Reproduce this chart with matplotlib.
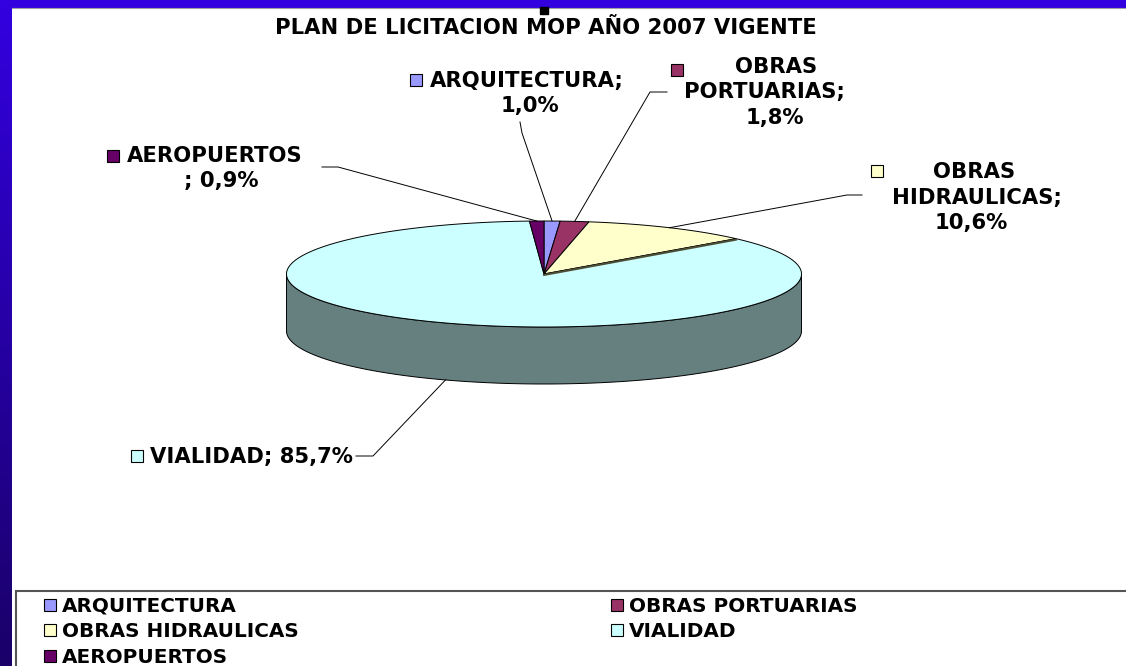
import numpy as np
import matplotlib
matplotlib.use("Agg")
import matplotlib.pyplot as plt
from matplotlib.colors import to_rgb
from matplotlib.patches import Polygon, Rectangle

TITLE = "PLAN DE LICITACION MOP AÑO 2007 VIGENTE"

categories = ["ARQUITECTURA", "OBRAS PORTUARIAS", "OBRAS HIDRAULICAS", "VIALIDAD", "AEROPUERTOS"]
shares = [1.0, 1.8, 10.6, 85.7, 0.9]
slice_colors = ["#9999ff", "#993366", "#ffffcc", "#ccffff", "#660066"]

# how each data label is broken into lines; {p} is the formatted share
label_lines = [
    ["ARQUITECTURA;", "{p}"],
    ["OBRAS", "PORTUARIAS;", "{p}"],
    ["OBRAS", "HIDRAULICAS;", "{p}"],
    ["VIALIDAD; {p}"],
    ["AEROPUERTOS", "; {p}"],
]

# ---- layout, everything in pixels (y grows downwards) ----
W, H = 1126, 666
CX, CY, RX, RY, DEPTH = 544, 274, 257.5, 53, 57
FONT = "DejaVu Sans"
LABEL_FS = 15.2
LEGEND_FS = 14.4

# marker centre, text lines (x, baseline, ha), leader elbow points
label_layout = [
    dict(marker=(416, 80), lines=[(430, 87, "left"), (530, 112, "center")],
         leader=[(520, 122), (522, 133)]),
    dict(marker=(677, 70), lines=[(776, 73, "center"), (764, 98, "center"), (775, 124, "center")],
         leader=[(667, 92), (650, 92)]),
    dict(marker=(877, 171), lines=[(974, 178, "center"), (977, 204, "center"), (971, 229, "center")],
         leader=[(862, 195), (847, 195)]),
    dict(marker=(137, 456), lines=[(150, 463, "left")],
         leader=[(356, 456), (373, 456)]),
    dict(marker=(113, 156), lines=[(127, 162, "left"), (221, 187, "center")],
         leader=[(322, 167), (338, 167)]),
]
legend_cols = [50, 617]
legend_rows = [605, 630, 656]


def rim(theta, drop=0.0):
    t = np.radians(theta)
    return CX + RX * np.sin(t), CY - RY * np.cos(t) + drop


def arc(t0, t1, drop=0.0):
    n = max(4, int(abs(t1 - t0) * 2))
    th = np.linspace(t0, t1, n)
    xs, ys = rim(th, drop)
    return np.column_stack([xs, ys])


def fmt_pct(v):
    return f"{v:.1f}".replace(".", ",") + "%"


fig = plt.figure(figsize=(W / 100, H / 100), dpi=100)
ax = fig.add_axes([0, 0, 1, 1])
ax.set_xlim(0, W)
ax.set_ylim(H, 0)
ax.axis("off")

# slide frame: blue bar on top, gradient bar on the left
grad = np.linspace(0, 1, 256).reshape(-1, 1)
top_rgb = np.array(to_rgb("#3300e0"))
bot_rgb = np.array(to_rgb("#1a0068"))
ax.imshow(top_rgb + (bot_rgb - top_rgb) * grad[:, :, None], extent=[0, 12, H, 0], aspect="auto", zorder=1)
ax.add_patch(Rectangle((0, 0), W, 7, color="#3300e0", zorder=2))
ax.plot([12, W], [7.5, 7.5], color="#a0a0a0", lw=0.8, zorder=2)
ax.add_patch(Rectangle((540, 7), 8, 7, color="black", zorder=3))

ax.text(546, 34, TITLE, fontsize=15.2, fontweight="bold", family=FONT, ha="center", va="baseline")

# ---- 3D pie ----
bounds = np.concatenate([[0], np.cumsum(shares)]) * 3.6
# side walls (only the front half, 90..270 deg, is visible)
for i, col in enumerate(slice_colors):
    a, b = max(bounds[i], 90), min(bounds[i + 1], 270)
    if a >= b:
        continue
    side = tuple(c * 0.5 for c in to_rgb(col))
    pts = np.vstack([arc(a, b), arc(b, a, DEPTH)])
    ax.add_patch(Polygon(pts, closed=True, facecolor=side, edgecolor="black", lw=0.7, zorder=4))
# top faces
for i, col in enumerate(slice_colors):
    pts = np.vstack([[CX, CY], arc(bounds[i], bounds[i + 1])])
    ax.add_patch(Polygon(pts, closed=True, facecolor=col, edgecolor="black", lw=0.7, zorder=5))
# darker cut edge under the hydraulics slice
ex, ey = rim(bounds[3])
ax.plot([CX, ex], [CY + 1, ey + 1], color="#4d4d33", lw=1.4, zorder=5.5)

# ---- data labels with leader lines ----
for i, lay in enumerate(label_layout):
    mid = (bounds[i] + bounds[i + 1]) / 2
    front = 90 < mid < 270
    px, py = rim(mid, DEPTH if front else 0)
    xs = [p[0] for p in lay["leader"]] + [px]
    ys = [p[1] for p in lay["leader"]] + [py]
    ax.plot(xs, ys, color="black", lw=0.7, zorder=6)

    mx, my = lay["marker"]
    ax.add_patch(Rectangle((mx - 6, my - 6), 12, 12, facecolor=slice_colors[i],
                           edgecolor="black", lw=0.8, zorder=7))
    for line, (tx, ty, ha) in zip(label_lines[i], lay["lines"]):
        ax.text(tx, ty, line.format(p=fmt_pct(shares[i])), fontsize=LABEL_FS, fontweight="bold",
                family=FONT, ha=ha, va="baseline", zorder=7)

# ---- legend box (row by row, two columns) ----
ax.add_patch(Rectangle((16, 591), W, 100, facecolor="white", edgecolor="#555555", lw=1.5, zorder=3))
for i, name in enumerate(categories):
    lx = legend_cols[i % 2]
    ly = legend_rows[i // 2]
    ax.add_patch(Rectangle((lx - 6, ly - 6), 12, 12, facecolor=slice_colors[i],
                           edgecolor="black", lw=0.8, zorder=7))
    ax.text(lx + 12, ly + 7, name, fontsize=LEGEND_FS, fontweight="bold", family=FONT,
            ha="left", va="baseline", zorder=7)

fig.savefig("out.png", dpi=100, facecolor="white")
